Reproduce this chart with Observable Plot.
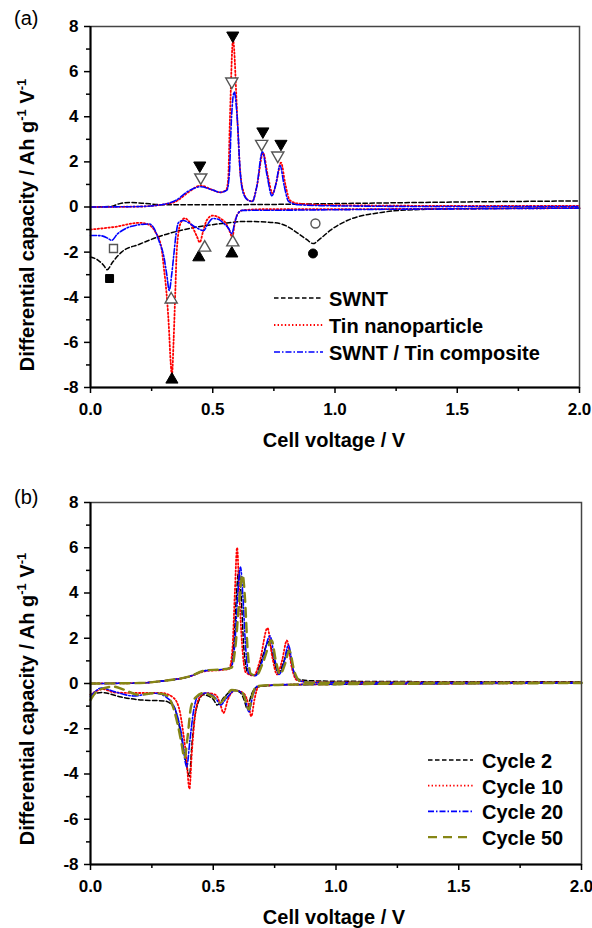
<!DOCTYPE html>
<html><head><meta charset="utf-8">
<script src="https://cdn.jsdelivr.net/npm/d3@7"></script>
<script src="https://cdn.jsdelivr.net/npm/@observablehq/plot@0.6"></script>
<style>
body{margin:0;background:#fff;}
#fig{position:relative;width:592px;height:928px;overflow:hidden;font-family:"Liberation Sans",Arial,sans-serif;background:#fff;}
#fig > div{position:absolute;left:0;}
</style></head><body>
<div id="fig"><div id="pa" style="top:0"></div><div id="pb" style="top:460px"></div></div>
<script>
// ---------- tick values ----------
const xTicks = [0, 0.5, 1, 1.5, 2];
const xMinor = [0.25, 0.75, 1.25, 1.75];
const yTicks = [-8, -6, -4, -2, 0, 2, 4, 6, 8];
const yMinor = [-7, -5, -3, -1, 1, 3, 5, 7];

// ---------- panel (a) data: [voltage, dQ/dV] ----------
const swntUp = [[0,0],[0.08,0.02],[0.12,0.15],[0.16,0.2],[0.21,0.17],[0.3,0.1],[0.5,0.1],[0.8,0.12],[1.0,0.15],[1.5,0.22],[2.0,0.27]];
const swntDown = [[0,-2.22],[0.03,-2.35],[0.055,-2.6],[0.068,-2.78],[0.09,-2.45],[0.127,-2.0],[0.2,-1.65],[0.27,-1.35],[0.4,-0.96],[0.54,-0.73],[0.635,-0.64],[0.72,-0.67],[0.78,-0.75],[0.85,-1.18],[0.885,-1.45],[0.91,-1.62],[0.94,-1.4],[0.98,-1.04],[1.05,-0.6],[1.19,-0.24],[1.32,-0.12],[1.6,-0.07],[2.0,-0.05]];
const tinUp = [[0,0],[0.2,0.02],[0.3,0.12],[0.35,0.25],[0.4,0.65],[0.45,0.95],[0.5,0.75],[0.53,0.65],[0.555,0.75],[0.563,1.2],[0.57,3.8],[0.583,7.4],[0.601,3.8],[0.612,1.6],[0.628,0.6],[0.645,0.3],[0.662,0.25],[0.68,0.9],[0.706,2.4],[0.725,1.4],[0.745,0.6],[0.762,1.2],[0.779,1.97],[0.797,1.0],[0.815,0.3],[0.85,0.15],[1.0,0.08],[1.5,0.05],[2.0,0.05]];
const tinDown = [[0,-1.0],[0.1,-0.88],[0.2,-0.7],[0.23,-0.75],[0.265,-1.1],[0.29,-1.8],[0.30,-2.7],[0.31,-3.7],[0.32,-5.2],[0.328,-6.9],[0.333,-7.45],[0.34,-5.9],[0.347,-3.7],[0.353,-1.9],[0.368,-0.73],[0.385,-0.5],[0.41,-0.75],[0.435,-1.3],[0.447,-1.57],[0.46,-1.1],[0.475,-0.6],[0.5,-0.38],[0.53,-0.5],[0.555,-0.75],[0.57,-1.1],[0.58,-1.35],[0.59,-0.7],[0.6,-0.35],[0.62,-0.15],[0.7,-0.1],[1.0,-0.1],[1.5,-0.07],[2.0,-0.05]];
const compUp = [[0,0],[0.2,0.02],[0.3,0.12],[0.35,0.3],[0.4,0.7],[0.45,0.9],[0.5,0.75],[0.53,0.65],[0.558,0.75],[0.568,1.5],[0.576,3.8],[0.588,5.1],[0.601,3.8],[0.612,1.6],[0.625,0.6],[0.645,0.3],[0.662,0.25],[0.68,0.9],[0.703,2.45],[0.722,1.4],[0.742,0.5],[0.758,1.0],[0.775,1.84],[0.793,0.9],[0.81,0.25],[0.85,0.1],[1.0,0.05],[1.5,0.02],[2.0,0.02]];
const compDown = [[0,-1.26],[0.04,-1.27],[0.07,-1.38],[0.086,-1.48],[0.11,-1.2],[0.143,-0.96],[0.19,-0.8],[0.24,-0.75],[0.26,-0.95],[0.28,-1.5],[0.30,-2.2],[0.312,-3.0],[0.322,-3.7],[0.332,-3.0],[0.34,-2.2],[0.35,-1.2],[0.36,-0.69],[0.38,-0.6],[0.40,-0.69],[0.43,-0.9],[0.463,-1.04],[0.48,-0.75],[0.50,-0.51],[0.525,-0.55],[0.545,-0.73],[0.565,-0.95],[0.578,-1.18],[0.59,-0.7],[0.6,-0.35],[0.62,-0.15],[0.8,-0.14],[1.0,-0.12],[1.5,-0.08],[2.0,-0.05]];

// peak markers in panel (a): [voltage, value, symbol, rotation]
const filledMarks = [[0.078,-3.17,"square",0],[0.91,-2.06,"circle",0],[0.333,-7.65,"triangle",0],[0.443,-2.23,"triangle",0],[0.578,-2.06,"triangle",0],[0.447,1.84,"triangle",180],[0.582,7.6,"triangle",180],[0.705,3.35,"triangle",180],[0.779,2.8,"triangle",180]];
const openMarks = [[0.094,-1.84,"square",0],[0.92,-0.73,"circle",0],[0.33,-4.1,"triangle",0],[0.467,-1.8,"triangle",0],[0.582,-1.57,"triangle",0],[0.451,1.31,"triangle",180],[0.578,5.56,"triangle",180],[0.70,2.8,"triangle",180],[0.766,2.28,"triangle",180]];

// ---------- panel (b) data ----------
const c2Up = [[0,0],[0.2,0.02],[0.3,0.12],[0.4,0.3],[0.47,0.58],[0.535,0.62],[0.57,0.7],[0.585,2.0],[0.595,4.0],[0.604,5.0],[0.613,4.0],[0.625,1.5],[0.64,0.5],[0.67,0.35],[0.695,1.0],[0.726,1.85],[0.745,1.1],[0.765,0.45],[0.785,0.9],[0.805,1.5],[0.825,0.6],[0.85,0.18],[0.9,0.12],[1.0,0.1],[1.5,0.08],[2.0,0.08]];
const c10Up = [[0,0],[0.2,0.02],[0.3,0.12],[0.4,0.3],[0.47,0.55],[0.535,0.6],[0.565,0.65],[0.578,1.5],[0.588,4.0],[0.597,6.0],[0.606,4.0],[0.617,1.8],[0.632,0.5],[0.665,0.35],[0.69,1.0],[0.721,2.45],[0.74,1.2],[0.76,0.4],[0.78,1.0],[0.8,1.9],[0.82,0.7],[0.84,0.15],[0.9,0.06],[1.0,0.05],[1.5,0.05],[2.0,0.05]];
const c20Up = [[0,0],[0.2,0.02],[0.3,0.12],[0.4,0.3],[0.47,0.57],[0.535,0.62],[0.572,0.7],[0.588,1.8],[0.6,4.0],[0.611,5.15],[0.62,4.0],[0.632,1.6],[0.645,0.45],[0.672,0.35],[0.7,1.0],[0.731,2.1],[0.75,1.1],[0.768,0.4],[0.788,0.9],[0.806,1.7],[0.826,0.6],[0.85,0.12],[0.9,0.05],[1.0,0.04],[1.5,0.04],[2.0,0.04]];
const c50Up = [[0,0],[0.2,0.02],[0.3,0.12],[0.4,0.3],[0.47,0.58],[0.535,0.62],[0.575,0.7],[0.592,1.8],[0.607,3.8],[0.62,4.8],[0.629,3.8],[0.64,1.5],[0.652,0.45],[0.675,0.35],[0.705,1.0],[0.738,1.9],[0.755,1.0],[0.772,0.4],[0.792,0.85],[0.81,1.45],[0.83,0.55],[0.855,0.1],[0.9,0.04],[1.0,0.03],[1.5,0.03],[2.0,0.03]];
const c2Down = [[0,-0.5],[0.045,-0.4],[0.125,-0.6],[0.21,-0.73],[0.3,-0.77],[0.34,-1.04],[0.37,-2.35],[0.388,-3.4],[0.403,-4.1],[0.413,-2.7],[0.43,-1.17],[0.46,-0.5],[0.5,-0.7],[0.516,-0.95],[0.545,-0.6],[0.58,-0.3],[0.61,-0.4],[0.625,-0.7],[0.638,-1.1],[0.655,-0.5],[0.68,-0.15],[0.8,-0.06],[1.0,-0.04],[1.5,0],[2.0,0.02]];
const c10Down = [[0,-0.5],[0.05,-0.25],[0.1,-0.4],[0.195,-0.42],[0.29,-0.42],[0.34,-0.65],[0.365,-1.3],[0.378,-2.2],[0.39,-3.2],[0.403,-4.65],[0.413,-3.0],[0.425,-1.5],[0.44,-0.7],[0.47,-0.42],[0.51,-0.5],[0.528,-0.9],[0.542,-1.3],[0.56,-0.7],[0.59,-0.3],[0.625,-0.45],[0.643,-0.9],[0.655,-1.45],[0.668,-0.7],[0.685,-0.12],[0.8,-0.05],[1.0,-0.03],[1.5,0],[2.0,0.02]];
const c20Down = [[0,-0.58],[0.045,-0.2],[0.1,-0.37],[0.175,-0.55],[0.263,-0.43],[0.32,-0.7],[0.35,-1.3],[0.37,-2.2],[0.392,-3.68],[0.405,-2.5],[0.42,-1.2],[0.435,-0.6],[0.47,-0.42],[0.51,-0.65],[0.53,-0.95],[0.55,-0.7],[0.59,-0.3],[0.625,-0.5],[0.645,-1.25],[0.66,-0.6],[0.68,-0.12],[0.8,-0.05],[1.0,-0.03],[1.5,0],[2.0,0.02]];
const c50Down = [[0,-0.73],[0.033,-0.29],[0.094,-0.14],[0.141,-0.29],[0.195,-0.5],[0.263,-0.43],[0.304,-0.5],[0.331,-0.87],[0.355,-1.8],[0.37,-2.6],[0.383,-3.3],[0.395,-2.4],[0.41,-1.0],[0.43,-0.6],[0.46,-0.42],[0.5,-0.6],[0.528,-0.86],[0.55,-0.6],[0.575,-0.29],[0.62,-0.42],[0.645,-1.15],[0.66,-0.5],[0.675,-0.12],[0.8,-0.05],[1.0,-0.03],[1.5,0],[2.0,0.02]];

// ---------- styles ----------
const FONT = '"Liberation Sans", Arial, Helvetica, sans-serif';
const stBlack = {color: "#000", width: 1.5, dash: "4.5,2.5"};
const stRed = {color: "#ff0000", width: 1.8, dash: "1.4,2.2"};
const stBlue = {color: "#0000ff", width: 1.6, dash: "6,2,1.5,2"};
const stOlive = {color: "#868615", width: 2.4, dash: "9,6"};

const seriesA = [
  {label: "SWNT", style: stBlack, parts: [swntUp, swntDown]},
  {label: "Tin nanoparticle", style: stRed, parts: [tinUp, tinDown]},
  {label: "SWNT / Tin composite", style: stBlue, parts: [compUp, compDown]}
];
const seriesB = [
  {label: "Cycle 2", style: stBlack, parts: [c2Up, c2Down]},
  {label: "Cycle 10", style: stRed, parts: [c10Up, c10Down]},
  {label: "Cycle 20", style: stBlue, parts: [c20Up, c20Down]},
  {label: "Cycle 50", style: stOlive, parts: [c50Up, c50Down]}
];

function panel({height, marginTop, marginBottom, marginRight, series, extra = []}) {
  const lines = [];
  series.forEach(s => s.parts.forEach(p => lines.push(
    Plot.line(p, {x: d => d[0], y: d => d[1], stroke: s.style.color, strokeWidth: s.style.width,
      strokeDasharray: s.style.dash, curve: "monotone-x"}))));
  return Plot.plot({
    width: 592, height, marginLeft: 90, marginRight, marginTop, marginBottom,
    style: {fontFamily: FONT, fontSize: "17px", fontWeight: "bold", color: "#000", background: "#fff", overflow: "visible"},
    x: {domain: [0, 2]},
    y: {domain: [-8, 8]},
    marks: [
      ...lines,
      ...extra,
      Plot.frame({stroke: "#444", strokeWidth: 1.5}),
      Plot.ruleX([0], {stroke: "#000", strokeWidth: 2}),
      Plot.ruleY([-8], {stroke: "#000", strokeWidth: 2}),
      Plot.axisX(xTicks, {tickSize: 6, tickPadding: 9, tickFormat: d3.format(".1f"), label: null, strokeWidth: 1.5}),
      Plot.axisX(xMinor, {tickSize: 4, tickFormat: () => "", label: null, strokeWidth: 1.5}),
      Plot.axisY(yTicks, {tickSize: 6, tickPadding: 6, tickFormat: d => String(d), label: null, strokeWidth: 1.5}),
      Plot.axisY(yMinor, {tickSize: 4, tickFormat: () => "", label: null, strokeWidth: 1.5})
    ]
  });
}

function decorate(svg, {tag, tagY, yLabelY, xLabelY, legendX0, legendX1, legendTX, legendY, legendStep, series}) {
  const s = d3.select(svg);
  s.append("text").attr("x", 14).attr("y", tagY).attr("text-anchor", "start").attr("font-size", 20)
    .attr("font-weight", "normal").attr("fill", "#000").text(tag);
  const t = s.append("text").attr("transform", `translate(34,${yLabelY}) rotate(-90)`)
    .attr("text-anchor", "middle").attr("font-size", 20).attr("font-weight", "bold").attr("fill", "#000");
  t.append("tspan").text("Differential capacity / Ah g");
  t.append("tspan").attr("dy", -8).attr("font-size", 13).text("-1");
  t.append("tspan").attr("dy", 8).text(" V");
  t.append("tspan").attr("dy", -8).attr("font-size", 13).text("-1");
  s.append("text").attr("x", 334).attr("y", xLabelY).attr("text-anchor", "middle").attr("font-size", 20)
    .attr("font-weight", "bold").attr("fill", "#000").text("Cell voltage / V");
  const g = s.append("g");
  series.forEach((r, i) => {
    const y = legendY + i * legendStep;
    g.append("line").attr("x1", legendX0).attr("x2", legendX1).attr("y1", y).attr("y2", y)
      .attr("stroke", r.style.color).attr("stroke-width", r.style.width).attr("stroke-dasharray", r.style.dash);
    g.append("text").attr("x", legendTX).attr("y", y + 8).attr("text-anchor", "start").attr("font-size", 20)
      .attr("font-weight", "bold").attr("fill", "#000").text(r.label);
  });
}

const markerOpts = {x: d => d[0], y: d => d[1], symbol: d => d[2], rotate: d => d[3], r: 4.5};
const svgA = panel({
  height: 460, marginTop: 26, marginBottom: 73, marginRight: 13, series: seriesA,
  extra: [
    Plot.dot(filledMarks, {...markerOpts, fill: "#000", stroke: "#000", strokeWidth: 1}),
    Plot.dot(openMarks, {...markerOpts, fill: "#fff", stroke: "#555", strokeWidth: 1.4})
  ]
});
decorate(svgA, {tag: "(a)", tagY: 25, yLabelY: 225, xLabelY: 447, legendX0: 274, legendX1: 323, legendTX: 329,
  legendY: 298, legendStep: 27, series: seriesA});
document.getElementById("pa").appendChild(svgA);

const svgB = panel({height: 468, marginTop: 42, marginBottom: 64, marginRight: 11, series: seriesB});
decorate(svgB, {tag: "(b)", tagY: 44, yLabelY: 239, xLabelY: 464, legendX0: 428, legendX1: 473, legendTX: 482,
  legendY: 300, legendStep: 25.7, series: seriesB});
document.getElementById("pb").appendChild(svgB);
</script>
</body></html>
